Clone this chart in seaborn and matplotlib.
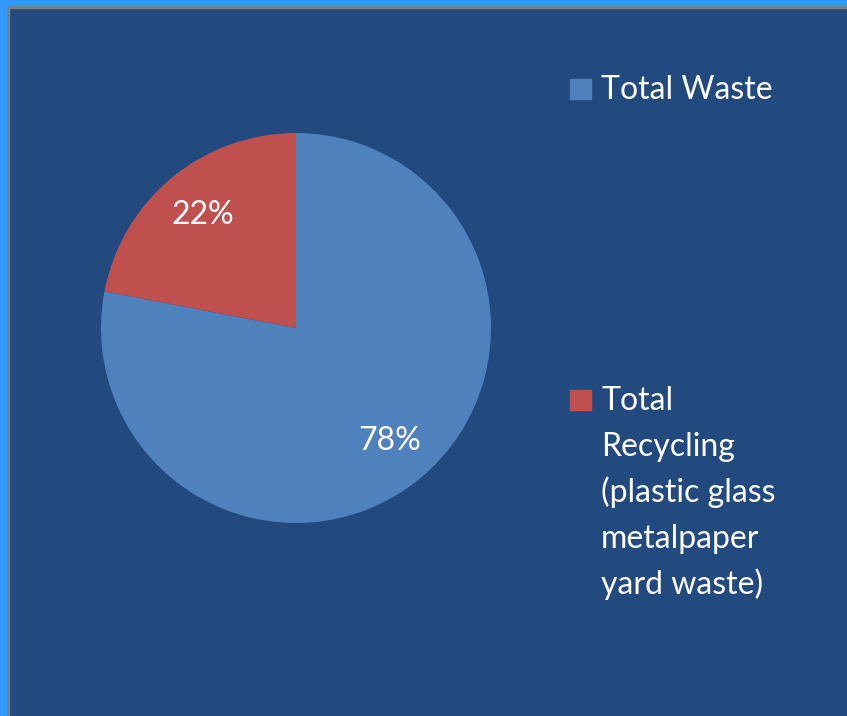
import matplotlib.pyplot as plt
import seaborn as sns
from matplotlib.patches import Rectangle

# data
categories = ["Total Waste", "Total Recycling (plastic glass metalpaper yard waste)"]
shares = [78, 22]
legend_lines = [
    ["Total Waste"],
    ["Total", "Recycling", "(plastic glass", "metalpaper", "yard waste)"],
]
colors = ["#4F81BD", "#C0504D"]

bg = "#234A7F"
W, H = 847, 716

sns.set_theme(style="white")
plt.rcParams["font.family"] = ["Lato", "DejaVu Sans"]


def fx(x):
    return x / W


def fy(y):
    return 1 - y / H


fig = plt.figure(figsize=(W / 100, H / 100), dpi=100)
fig.patch.set_facecolor(bg)

# frame: bright blue strip + grey line on the left and top edges
fig.add_artist(Rectangle((0, 0), fx(6), 1, transform=fig.transFigure, color="#3399FF", zorder=5))
fig.add_artist(Rectangle((0, fy(5)), 1, 5 / H, transform=fig.transFigure, color="#3399FF", zorder=5))
fig.add_artist(Rectangle((fx(6), 0), 3 / W, fy(5), transform=fig.transFigure, color="#7F7F7F", zorder=4))
fig.add_artist(Rectangle((fx(6), fy(8)), 1, 3 / H, transform=fig.transFigure, color="#7F7F7F", zorder=4))

# pie: center (296, 328), radius 195 px
ax = fig.add_axes([fx(296 - 195), fy(328 + 195), 390 / W, 390 / H])
ax.set_facecolor(bg)
wedges, texts, autotexts = ax.pie(
    shares,
    colors=colors,
    startangle=90,
    counterclock=False,
    autopct="%d%%",
    pctdistance=0.75,
    radius=1,
    wedgeprops={"linewidth": 0, "edgecolor": "none"},
    textprops={"color": "white", "fontsize": 23},
)
ax.set_xlim(-1, 1)
ax.set_ylim(-1, 1)
ax.set_aspect("equal")
ax.axis("off")

# legend drawn by hand to match the wrapped layout
entry_tops = [79, 390]
for lines, col, top in zip(legend_lines, colors, entry_tops):
    fig.add_artist(Rectangle((fx(570), fy(top + 20)), 21 / W, 20 / H,
                             transform=fig.transFigure, color=col))
    base = top + 20
    for i, line in enumerate(lines):
        fig.text(fx(601), fy(base + 46 * i), line, color="white",
                 fontsize=23, va="baseline", ha="left")

fig.savefig("out.png", dpi=100, facecolor=bg)
